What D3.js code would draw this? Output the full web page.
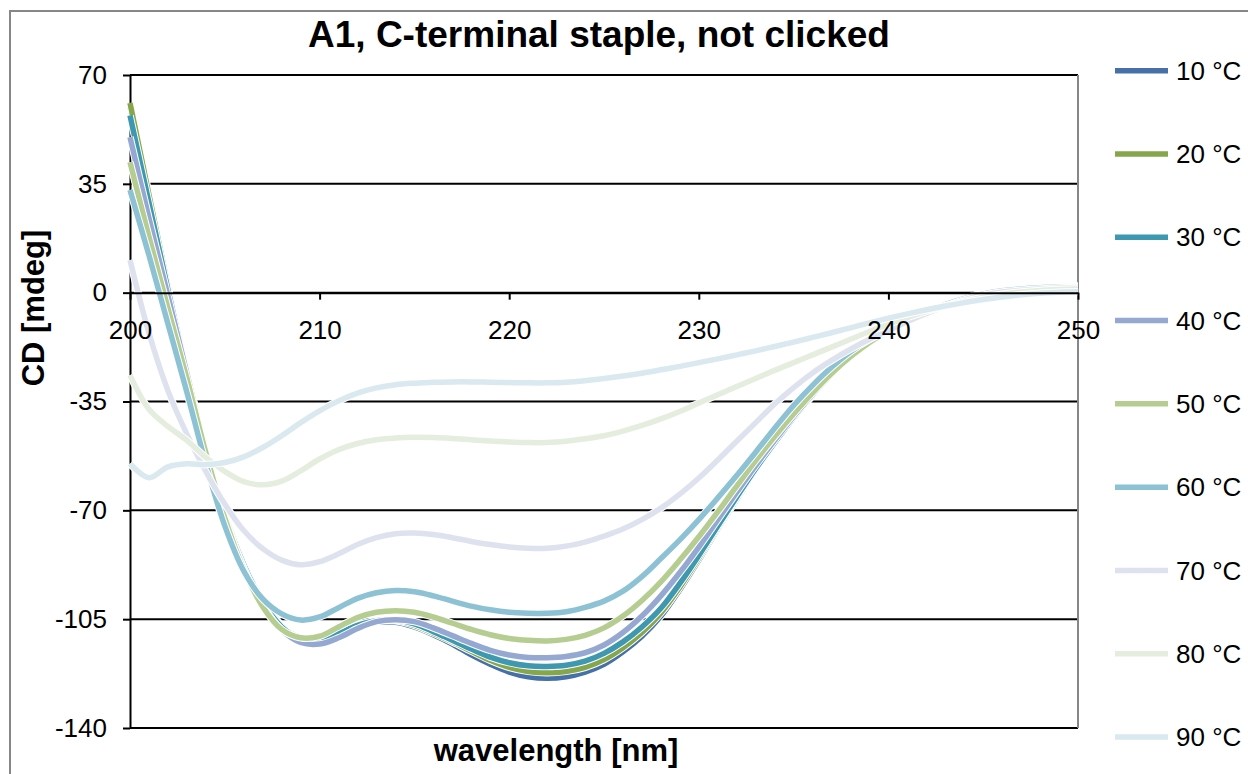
<!DOCTYPE html>
<html>
<head>
<meta charset="utf-8">
<script src="https://cdn.jsdelivr.net/npm/d3@7"></script>
<style>
  body { margin: 0; background: #fff; }
  text { font-family: "Liberation Sans", Arial, sans-serif; }
</style>
</head>
<body>
<div id="chart"></div>
<script>
// wavelength [nm] and CD [mdeg], one value per nm
var wavelength = [200,201,202,203,204,205,206,207,208,209,210,211,212,213,214,215,216,217,218,219,
                  220,221,222,223,224,225,226,227,228,229,230,231,232,233,234,235,236,237,238,239,
                  240,241,242,243,244,245,246,247,248,249,250];

var cd10 = [60,31,2,-26,-51,-71,-87,-99,-107,-111.5,-112,-110,-107.5,-106,-106,-107.5,-110,-113,-116.5,-119.5,
            -122,-123.5,-124,-123.5,-122,-119.5,-115.5,-110.5,-104,-95.5,-86,-76,-66.5,-57,-48.5,-40.5,-33,-26.5,-21,-16.3,
            -12.5,-9.2,-6.3,-3.8,-1.8,-0.3,0.7,1.3,1.7,1.9,2];
var cd20 = [61,31.5,2,-26,-51,-71.5,-87.5,-99.5,-107.3,-111,-111.5,-109.5,-107,-105.5,-105.5,-107,-109.5,-112.3,-115.3,-118.2,
            -120.5,-121.8,-122.2,-121.8,-120.5,-118,-114.2,-109.3,-103,-94.7,-85.3,-75.5,-66,-56.8,-48.3,-40.3,-33,-26.5,-21,-16.3,
            -12.5,-9.2,-6.3,-3.8,-1.8,-0.3,0.7,1.3,1.7,1.9,2];
var cd30 = [57,29,1,-26,-51,-71.5,-87.5,-99.5,-107.5,-111.3,-111.5,-109.5,-107,-105.5,-105.3,-106.5,-109,-111.8,-114.6,-117.2,
            -119,-120,-120.2,-119.8,-118.5,-116,-112.3,-107.5,-101.5,-93.5,-84.5,-75,-65.7,-56.6,-48.2,-40.2,-33,-26.5,-21,-16.3,
            -12.5,-9.2,-6.3,-3.8,-1.8,-0.3,0.7,1.3,1.7,1.9,2];
var cd40 = [50,24,-1,-26,-51,-72,-88.5,-100.5,-108.5,-112.5,-113,-111,-108,-105.8,-105.2,-105.8,-107.8,-110.3,-112.8,-115,
            -116.5,-117.3,-117.4,-117,-115.8,-113.3,-109.3,-104,-97.5,-90,-81.8,-73,-64.2,-55.6,-47.5,-39.8,-32.7,-26.3,-20.9,-16.2,
            -12.4,-9.1,-6.2,-3.8,-1.8,-0.3,0.7,1.3,1.7,1.9,2];
var cd50 = [42,18,-5,-27.5,-51.5,-72.5,-89,-101,-108.3,-111,-110.5,-107.5,-104.5,-102.8,-102.3,-102.8,-104.3,-106.3,-108.3,-110,
            -111.2,-111.8,-112,-111.5,-110.2,-107.8,-104,-99,-93,-86,-78.5,-70.5,-62.2,-54,-46.3,-39,-32.2,-26,-20.6,-16,
            -12.2,-9,-6.1,-3.7,-1.8,-0.3,0.7,1.3,1.7,1.9,2];
var cd60 = [33,12,-10,-32,-55,-75,-89.5,-98.5,-103.3,-105.3,-104.3,-101.3,-98.3,-96.5,-95.8,-96.2,-97.5,-99.2,-100.8,-102,
            -102.8,-103.1,-103.1,-102.6,-101.2,-99.2,-96,-91.3,-85.5,-79.5,-73,-66,-58.8,-51.3,-43.6,-36.3,-29.8,-24,-19,-15,
            -11.8,-8.8,-6.1,-3.8,-1.9,-0.4,0.6,1.2,1.6,1.8,1.9];
var cd70 = [10.5,-13,-31.5,-45.5,-57.5,-68,-76.5,-82.3,-86,-87.5,-86.5,-84,-81,-78.8,-77.5,-77.3,-77.8,-78.8,-80,-81,
            -81.8,-82.2,-82.2,-81.5,-80.2,-78.3,-76,-73,-69.3,-64.8,-59.6,-53.8,-47.8,-41.8,-35.8,-30.5,-25.8,-21.8,-18.2,-15,
            -12.2,-9.3,-6.7,-4.3,-2.3,-0.8,0.2,0.8,1.2,1.5,1.7];
var cd80 = [-26.5,-37.5,-43,-47.5,-53,-57.5,-60.8,-61.8,-60.6,-57.3,-53.5,-50.5,-48.5,-47.3,-46.7,-46.5,-46.6,-46.9,-47.3,-47.7,
            -48,-48.2,-48.2,-47.8,-47,-46,-44.5,-42.7,-40.6,-38.2,-35.5,-32.8,-30.2,-27.6,-25,-22.5,-20,-17.5,-15,-12.5,
            -10.2,-8,-6,-4.3,-2.8,-1.5,-0.5,0.2,0.7,1,1.2];
var cd90 = [-55,-59.5,-56,-55,-55.3,-54.6,-52.8,-49.8,-46,-41.8,-38,-34.8,-32.3,-30.6,-29.6,-29.1,-28.8,-28.7,-28.7,-28.8,
            -28.9,-29,-29,-28.8,-28.3,-27.6,-26.8,-25.9,-24.8,-23.7,-22.5,-21.3,-20,-18.7,-17.3,-15.9,-14.4,-12.9,-11.3,-9.7,
            -8.2,-6.8,-5.5,-4.3,-3.2,-2.2,-1.4,-0.7,-0.2,0.1,0.3];

var seriesNames = ["10 °C","20 °C","30 °C","40 °C","50 °C","60 °C","70 °C","80 °C","90 °C"];
var seriesValues = [cd10, cd20, cd30, cd40, cd50, cd60, cd70, cd80, cd90];
var seriesColors = ["#4570a8","#86a64b","#3d98b0","#94a8d2","#b6cd92","#8dc2d4","#dee2ef","#e5edde","#dae9ef"];

var xTicks = [200,210,220,230,240,250];
var yTicks = [70,35,0,-35,-70,-105,-140];

var chartTitle = "A1, C-terminal staple, not clicked";
var xTitle = "wavelength [nm]";
var yTitle = "CD [mdeg]";

// layout
var width = 1248, height = 774;
var plotLeft = 130, plotRight = 1078, plotTop = 75, plotBottom = 728;

var svg = d3.select("#chart")
    .append("svg")
    .attr("width", width)
    .attr("height", height);

// chart area frame
svg.append("rect")
    .attr("x", 10).attr("y", 11)
    .attr("width", 1300).attr("height", 800)
    .attr("fill", "#fff")
    .attr("stroke", "#878787")
    .attr("stroke-width", 2);

var xScale = d3.scaleLinear().domain([200, 250]).range([plotLeft, plotRight]);
var yScale = d3.scaleLinear().domain([-140, 70]).range([plotBottom, plotTop]);

// plain hyphen for negatives, like the original
var plainNum = d => String(d);

// horizontal gridlines
svg.append("g").selectAll("line")
    .data(yTicks)
    .enter().append("line")
    .attr("x1", plotLeft).attr("x2", plotRight)
    .attr("y1", d => yScale(d)).attr("y2", d => yScale(d))
    .attr("stroke", "#000")
    .attr("stroke-width", 2);

// right edge of plot area
svg.append("line")
    .attr("x1", plotRight).attr("x2", plotRight)
    .attr("y1", plotTop).attr("y2", plotBottom)
    .attr("stroke", "#878787")
    .attr("stroke-width", 2);

// y axis
var yAxis = svg.append("g")
    .attr("transform", "translate(" + plotLeft + ",0)")
    .call(d3.axisLeft(yScale).tickValues(yTicks).tickFormat(plainNum)
        .tickSize(7).tickPadding(16).tickSizeOuter(0));
yAxis.select(".domain").attr("stroke", "#000").attr("stroke-width", 2);
yAxis.selectAll(".tick line").attr("stroke", "#000").attr("stroke-width", 2);
yAxis.selectAll("text")
    .attr("font-size", 26)
    .attr("fill", "#000")
    .style("font-family", '"Liberation Sans", Arial, sans-serif');

// series lines
var line = d3.line()
    .x((d, i) => xScale(wavelength[i]))
    .y(d => yScale(d))
    .curve(d3.curveCatmullRom.alpha(0.5));

var lines = svg.append("g");
seriesValues.forEach(function(vals, k) {
    lines.append("path")
        .attr("d", line(vals))
        .attr("fill", "none")
        .attr("stroke", "#fff")
        .attr("stroke-width", 7.5)
        .attr("stroke-linejoin", "round");
    lines.append("path")
        .attr("d", line(vals))
        .attr("fill", "none")
        .attr("stroke", seriesColors[k])
        .attr("stroke-width", 5.5)
        .attr("stroke-linejoin", "round");
});

// x axis at CD = 0
var xAxis = svg.append("g")
    .attr("transform", "translate(0," + yScale(0) + ")")
    .call(d3.axisBottom(xScale).tickValues(xTicks).tickFormat(plainNum)
        .tickSize(7).tickPadding(21).tickSizeOuter(0));
xAxis.select(".domain").attr("stroke", "#000").attr("stroke-width", 2);
xAxis.selectAll(".tick line").attr("stroke", "#000").attr("stroke-width", 2);
xAxis.selectAll("text")
    .attr("font-size", 26)
    .attr("fill", "#000")
    .style("font-family", '"Liberation Sans", Arial, sans-serif');

// titles
svg.append("text")
    .attr("x", 599).attr("y", 47)
    .attr("text-anchor", "middle")
    .attr("font-size", 37)
    .attr("font-weight", "bold")
    .text(chartTitle);

svg.append("text")
    .attr("x", 556).attr("y", 761)
    .attr("text-anchor", "middle")
    .attr("font-size", 31)
    .attr("font-weight", "bold")
    .text(xTitle);

svg.append("text")
    .attr("transform", "translate(44,308) rotate(-90)")
    .attr("text-anchor", "middle")
    .attr("font-size", 31)
    .attr("font-weight", "bold")
    .text(yTitle);

// legend
var legendY = d3.scaleLinear().domain([0, 8]).range([70.7, 737]);
var legend = svg.append("g").selectAll("g")
    .data(seriesNames)
    .enter().append("g")
    .attr("transform", (d, i) => "translate(1115," + legendY(i) + ")");
legend.append("line")
    .attr("x1", 0).attr("x2", 53)
    .attr("stroke", (d, i) => seriesColors[i])
    .attr("stroke-width", 5.5);
legend.append("text")
    .attr("x", 61)
    .attr("dy", "0.35em")
    .attr("font-size", 26)
    .text(d => d);
</script>
</body>
</html>
